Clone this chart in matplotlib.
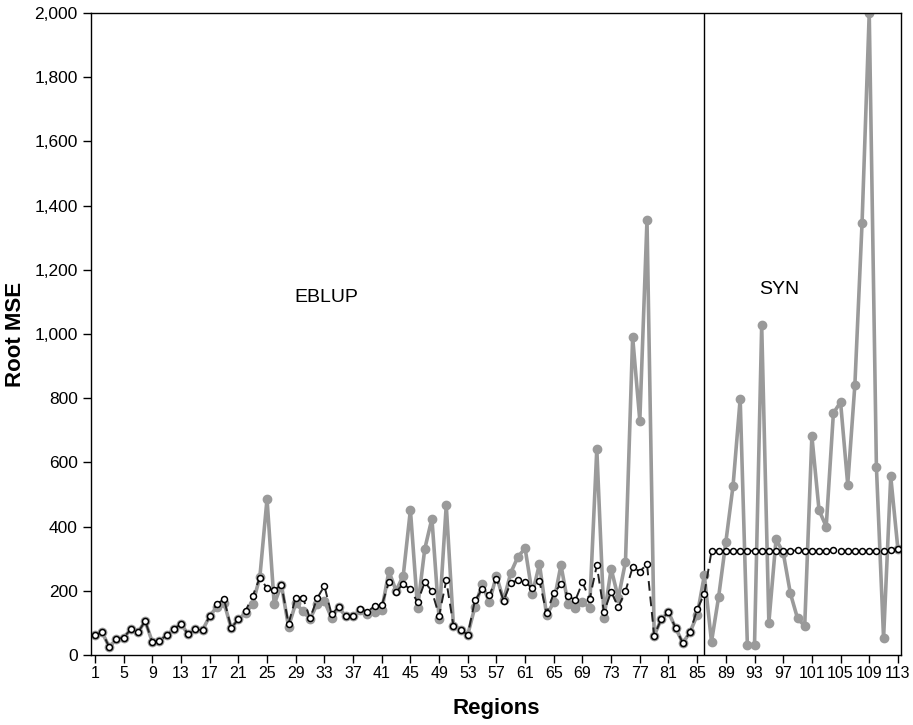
import numpy as np
import matplotlib.pyplot as plt
from matplotlib.ticker import FuncFormatter
from matplotlib import font_manager

plt.rcParams['font.family'] = ['Liberation Sans', 'DejaVu Sans']

# ------------------------- data -------------------------------------------------------
regions = np.arange(1, 114)

# direct estimate (solid grey, filled dots)
direct_mse = [62, 71, 24, 50, 54, 80, 70, 106, 40, 44,
              62, 80, 97, 64, 80, 77, 121, 150, 163, 84,
              111, 130, 159, 243, 486, 158, 219, 88, 161, 137,
              112, 159, 168, 116, 148, 120, 120, 140, 128, 134,
              139, 261, 200, 247, 452, 146, 330, 425, 113, 467,
              91, 78, 63, 150, 221, 165, 247, 170, 256, 306,
              332, 190, 283, 124, 165, 280, 158, 145, 166, 147,
              642, 116, 269, 177, 290, 990, 730, 1355, 60, 112,
              133, 84, 37, 71, 124, 248, 41, 182, 352, 526,
              798, 32, 32, 1028, 101, 360, 319, 192, 114, 90,
              682, 451, 400, 753, 788, 531, 842, 1346, 2000, 587,
              52, 556, 330]

# model estimate (dashed black, open circles): EBLUP up to 86, SYN after
model_mse = [62, 71, 24, 50, 54, 80, 70, 106, 40, 44,
             62, 80, 97, 64, 80, 77, 121, 158, 174, 84,
             111, 137, 184, 241, 208, 201, 219, 97, 179, 179,
             114, 177, 215, 127, 150, 122, 122, 144, 134, 153,
             155, 226, 196, 222, 204, 164, 227, 199, 122, 232,
             91, 78, 63, 170, 204, 187, 236, 169, 225, 233,
             226, 208, 229, 130, 193, 220, 184, 170, 226, 174,
             279, 133, 197, 149, 199, 273, 260, 283, 60, 112,
             133, 84, 37, 71, 142, 190, 323, 323, 323, 323,
             323, 325, 324, 324, 325, 324, 323, 324, 326, 324,
             323, 323, 324, 326, 324, 324, 323, 324, 323, 323,
             323, 326, 330]

split_region = 86
xtick_vals = list(range(1, 114, 4))
# ------------------------------------------------------------------------------------

# narrow font for the crowded x tick labels, if there is one
installed = {f.name for f in font_manager.fontManager.ttflist}
narrow = 'Liberation Sans Narrow' if 'Liberation Sans Narrow' in installed else 'Liberation Sans'

fig = plt.figure(figsize=(9.13, 7.25), dpi=100)
ax = fig.add_axes([0.0997, 0.0966, 0.8873, 0.8855])

ax.plot(regions, direct_mse, '-o', color='#9a9a9a', lw=2.6, ms=6,
        mfc='#9a9a9a', mec='#9a9a9a', zorder=2)
ax.plot(regions, model_mse, '--o', color='#222222', lw=1.4, ms=4.3,
        mfc='white', mec='black', mew=1.1, dashes=(5, 3), zorder=3)

ax.axvline(split_region, color='black', lw=1.0, zorder=1)

ax.text(33.3, 1115, 'EBLUP', fontsize=14, ha='center', va='center')
ax.text(96.5, 1137, 'SYN', fontsize=14, ha='center', va='center')

ax.set_xlim(0.45, 113.45)
ax.set_ylim(0, 2000)
ax.set_xticks(xtick_vals)
ax.set_yticks(range(0, 2001, 200))
ax.yaxis.set_major_formatter(FuncFormatter(lambda v, p: f'{int(v):,}'))
ax.tick_params(axis='both', labelsize=12.5, length=6, width=1, direction='out')
ax.tick_params(axis='x', pad=2)
if narrow == 'Liberation Sans Narrow':
    for lab in ax.get_xticklabels():
        lab.set_family(narrow)
        lab.set_fontsize(13.5)
else:
    for lab in ax.get_xticklabels():
        lab.set_fontsize(11.5)

for s in ax.spines.values():
    s.set_linewidth(1.0)

ax.set_xlabel('Regions', fontsize=16, fontweight='bold', labelpad=12)
ax.set_ylabel('Root MSE', fontsize=16, fontweight='bold', labelpad=6)

fig.savefig('out.png', dpi=100)
